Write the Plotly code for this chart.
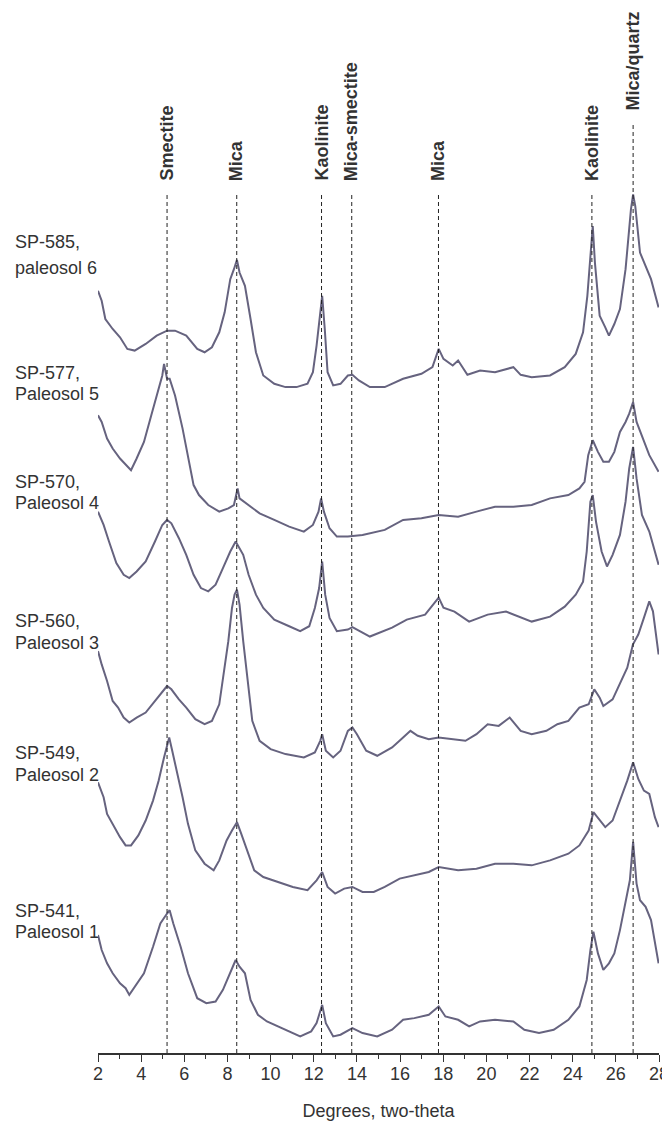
import plotly.graph_objects as go

# ---------------- data ----------------
# diffraction angle (degrees two-theta) and relative intensity (arbitrary counts)
sp585_x = [2.0, 2.17, 2.34, 2.68, 3.02, 3.36, 3.7, 4.21, 4.72, 5.2, 5.57, 6.09, 6.6, 6.94, 7.28, 7.62, 7.87, 8.13, 8.3, 8.44, 8.56, 8.81, 9.07, 9.32, 9.66, 10.17, 10.69, 11.2, 11.71, 11.96, 12.13, 12.3, 12.39, 12.51, 12.64, 12.9, 13.24, 13.58, 13.79, 14.09, 14.6, 15.29, 16.14, 16.99, 17.5, 17.79, 18.01, 18.44, 18.69, 19.12, 19.71, 20.4, 21.25, 21.59, 22.1, 22.95, 23.63, 24.14, 24.48, 24.68, 24.82, 24.93, 25.03, 25.25, 25.51, 25.68, 25.93, 26.19, 26.45, 26.7, 26.8, 26.9, 27.12, 27.38, 27.63, 27.98]
sp585_y = [335, 305, 250, 220, 195, 160, 155, 175, 200, 215, 215, 200, 160, 150, 165, 210, 270, 370, 400, 428, 390, 350, 250, 150, 80, 55, 45, 45, 55, 90, 170, 270, 320, 220, 90, 50, 55, 80, 82, 65, 45, 45, 70, 85, 105, 160, 130, 110, 125, 82, 95, 90, 105, 82, 75, 80, 105, 145, 210, 320, 450, 530, 420, 260, 225, 200, 235, 280, 400, 580, 625, 590, 450, 410, 370, 285]

sp577_x = [2.0, 2.17, 2.42, 2.68, 3.02, 3.36, 3.53, 3.79, 4.13, 4.47, 4.72, 4.98, 5.06, 5.2, 5.32, 5.57, 5.92, 6.17, 6.43, 6.68, 7.11, 7.62, 8.04, 8.3, 8.47, 8.56, 9.0, 9.49, 10.17, 10.86, 11.54, 11.96, 12.22, 12.34, 12.47, 12.73, 13.07, 13.58, 14.26, 15.29, 16.14, 16.99, 17.79, 18.69, 19.54, 20.4, 21.25, 22.1, 22.95, 23.8, 24.31, 24.55, 24.72, 24.93, 25.17, 25.42, 25.68, 25.93, 26.19, 26.45, 26.62, 26.8, 26.96, 27.21, 27.55, 27.98]
sp577_y = [420, 400, 350, 320, 290, 265, 255, 290, 340, 420, 480, 540, 575, 530, 530, 480, 380, 300, 210, 180, 150, 130, 140, 150, 200, 170, 150, 125, 105, 85, 70, 90, 130, 170, 130, 80, 55, 55, 60, 75, 105, 110, 120, 115, 130, 145, 145, 150, 170, 180, 200, 220, 300, 345, 310, 280, 280, 310, 370, 400, 425, 460, 400, 360, 300, 250]

sp570_x = [2.0, 2.26, 2.51, 2.85, 3.19, 3.45, 3.79, 4.21, 4.64, 4.98, 5.2, 5.4, 5.75, 6.09, 6.43, 6.77, 7.11, 7.45, 7.79, 8.13, 8.38, 8.56, 8.73, 8.98, 9.32, 9.66, 10.17, 10.86, 11.37, 11.79, 12.05, 12.25, 12.39, 12.53, 12.73, 13.07, 13.58, 13.79, 14.6, 15.63, 16.31, 17.16, 17.79, 18.01, 18.52, 19.2, 20.06, 20.91, 22.1, 22.95, 23.63, 24.14, 24.48, 24.65, 24.82, 24.93, 25.08, 25.34, 25.59, 25.85, 26.19, 26.45, 26.62, 26.8, 26.96, 27.21, 27.55, 27.98]
sp570_y = [420, 380, 330, 265, 230, 220, 240, 270, 330, 380, 395, 385, 340, 290, 230, 190, 180, 200, 250, 300, 330, 310, 290, 230, 170, 130, 95, 75, 60, 75, 130, 190, 270, 170, 100, 60, 65, 72, 44, 71, 95, 110, 161, 131, 119, 89, 110, 119, 89, 104, 134, 170, 209, 300, 450, 470, 390, 300, 255, 290, 350, 450, 550, 615, 520, 410, 360, 260]

sp560_x = [2.0, 2.17, 2.42, 2.68, 2.93, 3.19, 3.45, 3.79, 4.21, 4.64, 4.98, 5.2, 5.4, 5.75, 6.09, 6.51, 6.94, 7.28, 7.62, 7.87, 8.04, 8.21, 8.33, 8.44, 8.56, 8.73, 8.9, 9.15, 9.49, 10.0, 10.69, 11.54, 12.05, 12.3, 12.39, 12.56, 12.9, 13.24, 13.58, 13.79, 14.0, 14.43, 14.94, 15.63, 16.14, 16.48, 16.82, 17.33, 17.79, 18.35, 19.03, 19.54, 20.06, 20.57, 21.08, 21.59, 22.1, 22.78, 23.29, 23.8, 24.31, 24.74, 25.0, 25.25, 25.42, 25.85, 26.19, 26.53, 26.79, 27.04, 27.3, 27.55, 27.72, 27.98]
sp560_y = [370, 330, 280, 220, 200, 170, 155, 170, 185, 220, 250, 265, 255, 225, 200, 165, 150, 160, 210, 320, 400, 500, 540, 555, 510, 400, 300, 160, 100, 75, 60, 50, 65, 100, 120, 70, 50, 70, 130, 140, 120, 70, 55, 80, 110, 130, 115, 105, 110, 105, 100, 120, 150, 145, 170, 130, 120, 130, 150, 160, 200, 210, 255, 230, 205, 225, 270, 320, 390, 420, 470, 520, 490, 360]

sp549_x = [2.0, 2.26, 2.42, 2.68, 3.02, 3.28, 3.53, 3.87, 4.21, 4.55, 4.81, 5.06, 5.2, 5.3, 5.44, 5.66, 5.92, 6.17, 6.51, 6.94, 7.36, 7.62, 7.96, 8.21, 8.44, 8.64, 8.9, 9.24, 9.66, 10.34, 11.03, 11.71, 12.13, 12.39, 12.64, 12.99, 13.41, 13.79, 14.26, 14.78, 15.29, 15.98, 16.66, 17.33, 17.79, 18.69, 19.54, 20.4, 21.25, 22.1, 22.95, 23.8, 24.31, 24.74, 24.96, 25.25, 25.51, 25.85, 26.19, 26.53, 26.8, 27.04, 27.3, 27.55, 27.81, 27.98]
sp549_y = [385, 340, 290, 260, 220, 195, 195, 225, 270, 330, 390, 460, 500, 520, 480, 420, 340, 260, 180, 140, 120, 150, 210, 240, 265, 230, 180, 120, 100, 85, 70, 60, 90, 115, 70, 50, 65, 70, 55, 55, 70, 95, 105, 115, 130, 120, 125, 140, 140, 135, 150, 170, 195, 240, 295, 270, 250, 270, 330, 390, 445, 395, 360, 350, 280, 250]

sp541_x = [2.0, 2.17, 2.42, 2.68, 3.02, 3.28, 3.45, 3.7, 4.13, 4.55, 4.89, 5.2, 5.32, 5.49, 5.83, 6.17, 6.6, 7.02, 7.45, 7.79, 8.13, 8.38, 8.56, 8.81, 9.07, 9.41, 9.83, 10.34, 10.86, 11.37, 11.88, 12.13, 12.39, 12.56, 12.9, 13.24, 13.79, 14.26, 14.94, 15.63, 16.14, 16.66, 17.33, 17.79, 18.1, 18.69, 19.2, 19.71, 20.4, 21.25, 21.76, 22.44, 23.12, 23.8, 24.31, 24.65, 24.82, 24.96, 25.17, 25.42, 25.68, 25.93, 26.19, 26.45, 26.65, 26.8, 26.96, 27.12, 27.38, 27.63, 27.98]
sp541_y = [315, 270, 230, 200, 170, 155, 135, 160, 200, 280, 350, 380, 390, 350, 280, 200, 125, 110, 115, 150, 200, 240, 220, 200, 120, 75, 55, 40, 25, 10, 25, 50, 105, 50, 10, 15, 35, 20, 10, 30, 60, 65, 75, 100, 70, 60, 40, 55, 60, 55, 30, 20, 30, 60, 100, 180, 270, 325, 260, 210, 230, 260, 330, 420, 480, 596, 470, 420, 400, 360, 230]

sample_names = ["SP-585,", "SP-577,", "SP-570,", "SP-560,", "SP-549,", "SP-541,"]
paleosol_names = ["paleosol 6", "Paleosol 5", "Paleosol 4", "Paleosol 3", "Paleosol 2", "Paleosol 1"]
stack_offsets = [1920, 1460, 1170, 800, 390, 0]   # vertical stacking of the patterns

mineral_names = ["Smectite", "Mica", "Kaolinite", "Mica-smectite", "Mica", "Kaolinite", "Mica/quartz"]
mineral_pos = [5.2, 8.43, 12.36, 13.76, 17.78, 24.89, 26.8]

x_ticks = list(range(2, 29, 2))

# ---------------- layout helpers (page has an 8px body margin) ----------------
PAGE_W, PAGE_H = 670, 1121
BODY = 8
W, H = PAGE_W - BODY, PAGE_H - BODY
AXIS_SCREEN = 1053            # screen row of the x axis
PLOT_L_SCREEN, PLOT_R_SCREEN = 98, 659
plot_h = AXIS_SCREEN - BODY   # plot area from figure top to axis
UNITS = 3.011                 # intensity units per pixel
y_lo = -40
y_hi = y_lo + plot_h * UNITS

def paper_y(screen_y):
    return (AXIS_SCREEN - screen_y) / plot_h

def paper_x(screen_x):
    return (screen_x - PLOT_L_SCREEN) / (PLOT_R_SCREEN - PLOT_L_SCREEN)

series = [(sp585_x, sp585_y), (sp577_x, sp577_y), (sp570_x, sp570_y),
          (sp560_x, sp560_y), (sp549_x, sp549_y), (sp541_x, sp541_y)]
line_col = "#66637f"
txt_col = "#333333"
font_fam = "Liberation Sans, Arial, sans-serif"
FS = 18

fig = go.Figure()
for (xs, ys), off in zip(series, stack_offsets):
    fig.add_trace(go.Scatter(x=xs, y=[v + off for v in ys], mode="lines",
                             line=dict(color=line_col, width=2), showlegend=False,
                             hoverinfo="skip"))

label_bottom = [183, 183, 183, 183, 183, 183, 113]
line_top = [192, 192, 192, 192, 192, 192, 124]
shapes = []
annotations = []
for name, xpos, lb, lt in zip(mineral_names, mineral_pos, label_bottom, line_top):
    shapes.append(dict(type="line", xref="x", yref="paper", x0=xpos, x1=xpos,
                       y0=0, y1=paper_y(lt), line=dict(color="#222222", width=1, dash="4px,3px")))
    annotations.append(dict(text="<b>%s</b>" % name, x=xpos, y=paper_y(lb), xref="x", yref="paper",
                            textangle=-90, xanchor="center", yanchor="bottom", showarrow=False,
                            font=dict(size=FS, color=txt_col, family=font_fam)))

name_rows = [242, 373, 482, 621, 753, 911]
paleo_rows = [268, 394, 503, 643, 775, 932]
for nm, pn, r1, r2 in zip(sample_names, paleosol_names, name_rows, paleo_rows):
    for txt, r in ((nm, r1), (pn, r2)):
        annotations.append(dict(text=txt, x=paper_x(13), y=paper_y(r), xref="paper", yref="paper",
                                xanchor="left", yanchor="middle", showarrow=False,
                                font=dict(size=FS, color=txt_col, family=font_fam)))

fig.update_layout(
    width=W, height=H,
    margin=dict(l=PLOT_L_SCREEN - BODY, r=PAGE_W - PLOT_R_SCREEN, t=0, b=PAGE_H - AXIS_SCREEN),
    plot_bgcolor="white", paper_bgcolor="white",
    shapes=shapes, annotations=annotations,
    font=dict(family=font_fam, color=txt_col, size=FS),
    xaxis=dict(range=[2, 28], tickvals=x_ticks, ticks="outside", ticklen=7, tickwidth=1,
               tickcolor=txt_col, showline=True, linecolor=txt_col, linewidth=1.5,
               showgrid=False, zeroline=False, ticklabelstandoff=-3,
               minor=dict(dtick=1, tick0=2, ticks="outside", ticklen=4, tickcolor=txt_col, showgrid=False),
               tickfont=dict(size=FS, color=txt_col),
               title=dict(text="Degrees, two-theta", font=dict(size=FS, color=txt_col), standoff=24),
               automargin=False),
    yaxis=dict(visible=False, range=[y_lo, y_hi], fixedrange=True),
)

fig.write_html("out.html")
